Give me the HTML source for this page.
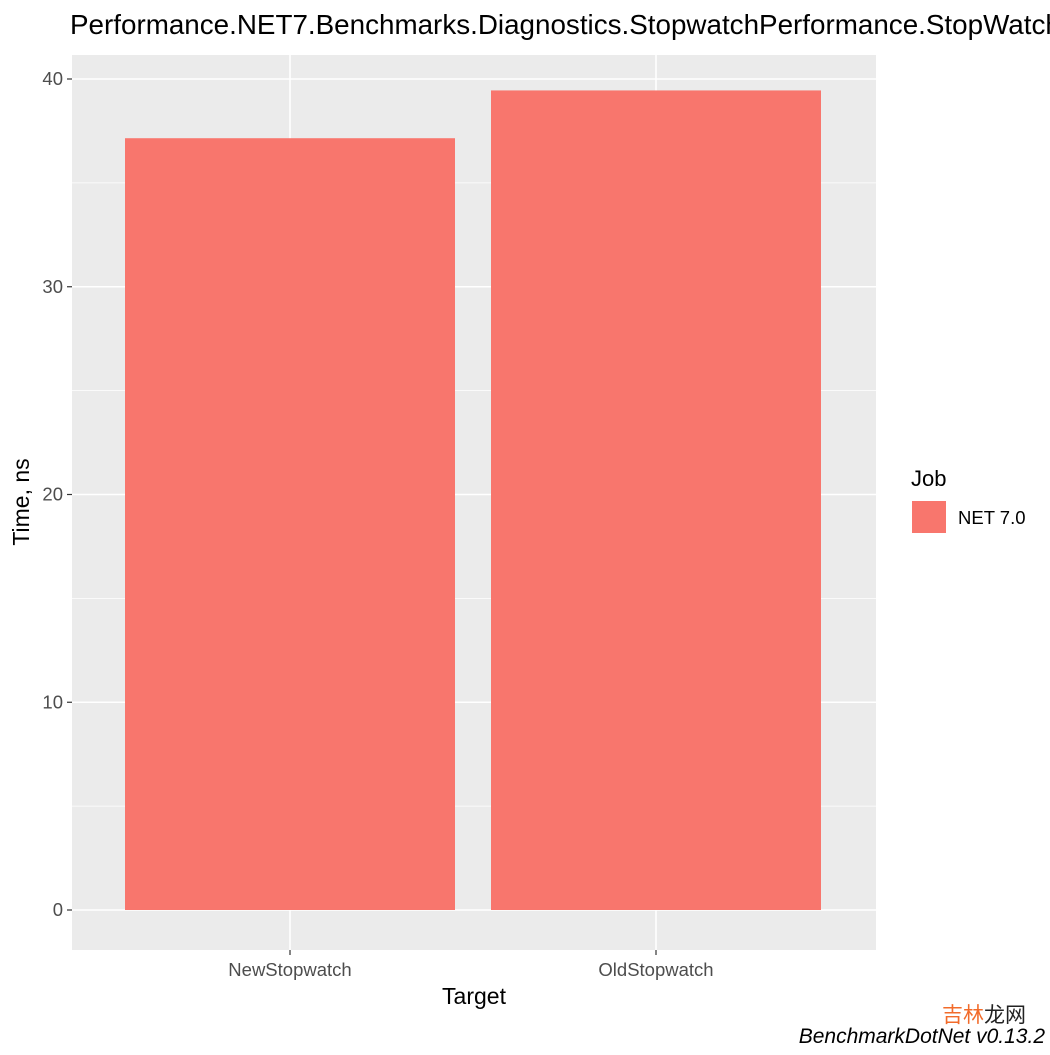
<!DOCTYPE html>
<html><head><meta charset="utf-8"><style>
body{margin:0;background:#fff;width:1050px;height:1050px;overflow:hidden}
svg text{font-family:"Liberation Sans","Noto Sans CJK SC",sans-serif}
</style></head><body>
<svg id="chart" width="1050" height="1050">
<text x="70" y="34" font-size="27.8" fill="#000">Performance.NET7.Benchmarks.Diagnostics.StopwatchPerformance.StopWatch</text>
<rect x="72" y="55" width="804" height="895" fill="#ebebeb"/>
<g id="grid"></g>
<g id="bars"></g>
<g id="axes"></g>
<text x="474" y="1004" font-size="23" text-anchor="middle">Target</text>
<text transform="translate(29,502) rotate(-90)" font-size="23" text-anchor="middle">Time, ns</text>
<text x="911" y="486" font-size="22">Job</text>
<rect x="912" y="501" width="34" height="32" fill="#f8766d"/>
<text x="958" y="524" font-size="18.5">NET 7.0</text>
<text x="942" y="1022" font-size="21"><tspan fill="#f26b2a">吉林</tspan><tspan fill="#222">龙网</tspan></text>
<text x="1045" y="1043" font-size="21" font-style="italic" text-anchor="end">BenchmarkDotNet v0.13.2</text>
</svg>
<script>
const categories=["NewStopwatch","OldStopwatch"];
const values=[37.15,39.45];
const yTicks=[0,10,20,30,40];
const ns="http://www.w3.org/2000/svg";
const y0=910,yPer=20.775;
function y(v){return y0-v*yPer;}
function xc(i){return 290+i*366;}
const grid=document.getElementById('grid'),bars=document.getElementById('bars'),axes=document.getElementById('axes');
function mk(tag,attrs,parent){const e=document.createElementNS(ns,tag);for(const k in attrs)e.setAttribute(k,attrs[k]);parent.appendChild(e);return e;}
for(let t=-0.5;t<=4.5;t+=0.5){const v=t*10;const yy=y(v);if(yy<55||yy>950)continue;
 const l=mk('line',{x1:72,x2:876,y1:yy,y2:yy,stroke:'#fff','stroke-width':Number.isInteger(t)?1.6:0.8},grid);
 
 }
categories.forEach((c,i)=>{
 const g=mk('line',{x1:xc(i),x2:xc(i),y1:55,y2:950,stroke:'#fff','stroke-width':1.6},grid);
 
 
 const r=mk('rect',{x:xc(i)-165,width:330,y:y(values[i]),height:y(0)-y(values[i]),fill:'#f8766d'},bars);
 
 
 const tk=mk('line',{x1:xc(i),x2:xc(i),y1:950,y2:955,stroke:'#333','stroke-width':1.2},axes);
 
 
 const tx=mk('text',{x:xc(i),y:976,'font-size':18.5,'text-anchor':'middle',fill:'#4d4d4d'},axes);
 tx.textContent=c;
 
 
});
yTicks.forEach(v=>{
 const tk=mk('line',{x1:67,x2:72,y1:y(v),y2:y(v),stroke:'#333','stroke-width':1.2},axes);
 
 
 const tx=mk('text',{x:63,y:y(v)+6,'font-size':18.5,'text-anchor':'end',fill:'#4d4d4d'},axes);
 tx.textContent=v;
 
 
});
</script>
</body></html>
